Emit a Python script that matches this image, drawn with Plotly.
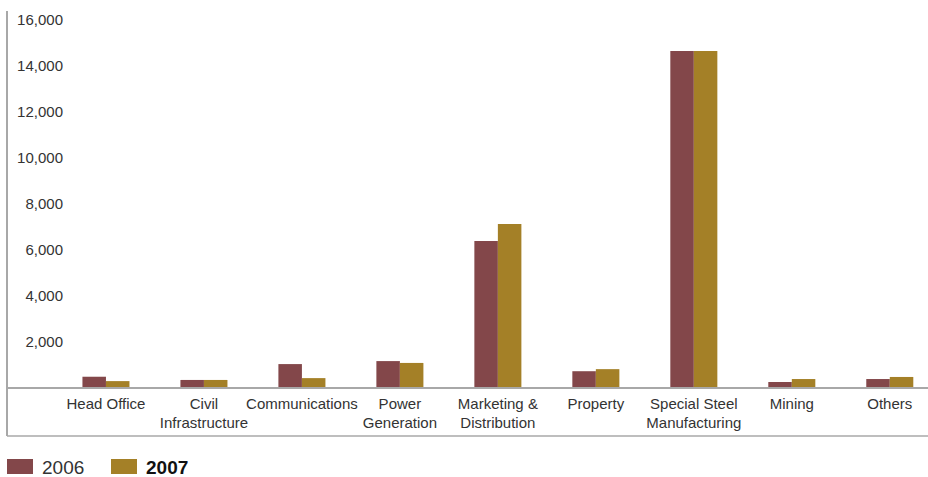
import plotly.graph_objects as go

# Segment revenue by division
categories = [
    "Head Office", "Civil<br>Infrastructure", "Communications", "Power<br>Generation",
    "Marketing &<br>Distribution", "Property", "Special Steel<br>Manufacturing",
    "Mining", "Others",
]
values_2006 = [490, 350, 1040, 1170, 6390, 730, 14650, 260, 390]
values_2007 = [300, 350, 430, 1090, 7130, 820, 14650, 390, 480]
y_ticks = [2000, 4000, 6000, 8000, 10000, 12000, 14000, 16000]
y_tick_text = ["2,000", "4,000", "6,000", "8,000", "10,000", "12,000", "14,000", "16,000"]

C2006 = "#83474A"
C2007 = "#A48027"
LINE = "#A8A8A8"
FONT = "Liberation Sans, Arial, Helvetica, sans-serif"

W, H = 928, 477
ML, MR, MT, MB = 7, 0, 11, 41
PW, PH = W - ML - MR, H - MT - MB


def px_x(px):
    return (px - ML) / PW


def px_y(py):
    return (H - MB - py) / PH


x_idx = list(range(len(categories)))

fig = go.Figure()
fig.add_trace(go.Bar(x=x_idx, y=values_2006, name="2006", marker_color=C2006,
                     marker_line_width=0))
fig.add_trace(go.Bar(x=x_idx, y=values_2007, name="2007", marker_color=C2007,
                     marker_line_width=0))

zero_pos = px_y(388)

fig.update_layout(
    width=W, height=H,
    margin=dict(l=ML, r=MR, t=MT, b=MB),
    paper_bgcolor="white", plot_bgcolor="white",
    barmode="group", bargap=0.52, bargroupgap=0,
    showlegend=False,
    font=dict(family=FONT, size=15, color="#333333"),
    xaxis=dict(
        range=[-1.01, 8.39],
        tickmode="array", tickvals=x_idx, ticktext=categories,
        tickangle=0,
        anchor="free", position=zero_pos,
        showline=True, linecolor=LINE, linewidth=1.5,
        showgrid=False, zeroline=False, ticks="",
        ticklabelstandoff=2,
        tickfont=dict(size=15, color="#333333"),
    ),
    yaxis=dict(
        range=[-2087, 16391],
        tickmode="array", tickvals=y_ticks, ticktext=y_tick_text,
        anchor="free", position=px_x(63),
        showline=False, showgrid=False, zeroline=False, ticks="",
        tickfont=dict(size=15, color="#333333"),
    ),
    shapes=[
        # left frame line
        dict(type="line", xref="paper", yref="paper", x0=0, x1=0, y0=0, y1=1,
             line=dict(color=LINE, width=2)),
        # bottom frame line
        dict(type="line", xref="paper", yref="paper", x0=0, x1=1, y0=0, y1=0,
             line=dict(color=LINE, width=1.5)),
        # legend swatches
        dict(type="rect", xref="paper", yref="paper",
             x0=px_x(7), x1=px_x(33), y0=px_y(474), y1=px_y(459),
             fillcolor=C2006, line=dict(width=0)),
        dict(type="rect", xref="paper", yref="paper",
             x0=px_x(111), x1=px_x(137), y0=px_y(474), y1=px_y(459),
             fillcolor=C2007, line=dict(width=0)),
    ],
    annotations=[
        dict(xref="paper", yref="paper", x=px_x(40), y=px_y(467), text="2006",
             showarrow=False, xanchor="left", yanchor="middle",
             font=dict(size=19, color="#333333")),
        dict(xref="paper", yref="paper", x=px_x(144), y=px_y(467), text="<b>2007</b>",
             showarrow=False, xanchor="left", yanchor="middle",
             font=dict(size=19, color="#111111")),
    ],
)

fig.write_html("out.html")
